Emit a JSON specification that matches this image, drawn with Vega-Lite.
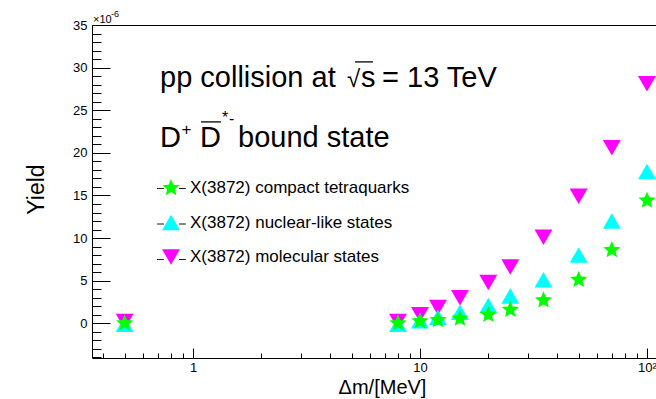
{
  "$schema": "https://vega.github.io/schema/vega-lite/v6.json",
  "width": 564,
  "height": 333,
  "autosize": {"type": "none"},
  "padding": {"left": 92, "top": 25, "right": 0, "bottom": 41},
  "background": "white",
  "config": {
    "view": {"stroke": null},
    "font": "Liberation Sans",
    "axis": {"grid": false, "domainColor": "black", "tickColor": "black", "labelColor": "black", "titleColor": "black", "titleFontWeight": "normal", "labelFont": "Liberation Sans", "titleFont": "Liberation Sans", "labelFlush": false, "labelOverlap": false, "tickWidth": 1, "domainWidth": 1},
    "text": {"font": "Liberation Sans", "color": "black"}
  },
  "resolve": {"axis": {"x": "independent", "y": "independent"}},
  "layer": [
    {
      "data": {"values": [
        {"dm": 0.5, "yield": 0.2, "series": "X(3872) molecular states"},
        {"dm": 8, "yield": 0.2, "series": "X(3872) molecular states"},
        {"dm": 10, "yield": 1.0, "series": "X(3872) molecular states"},
        {"dm": 12, "yield": 1.85, "series": "X(3872) molecular states"},
        {"dm": 15, "yield": 3.0, "series": "X(3872) molecular states"},
        {"dm": 20, "yield": 4.8, "series": "X(3872) molecular states"},
        {"dm": 25, "yield": 6.6, "series": "X(3872) molecular states"},
        {"dm": 35, "yield": 10.1, "series": "X(3872) molecular states"},
        {"dm": 50, "yield": 14.9, "series": "X(3872) molecular states"},
        {"dm": 70, "yield": 20.6, "series": "X(3872) molecular states"},
        {"dm": 100, "yield": 28.1, "series": "X(3872) molecular states"},
        {"dm": 0.5, "yield": -0.1, "series": "X(3872) nuclear-like states"},
        {"dm": 8, "yield": -0.1, "series": "X(3872) nuclear-like states"},
        {"dm": 10, "yield": 0.3, "series": "X(3872) nuclear-like states"},
        {"dm": 12, "yield": 0.7, "series": "X(3872) nuclear-like states"},
        {"dm": 15, "yield": 1.3, "series": "X(3872) nuclear-like states"},
        {"dm": 20, "yield": 2.1, "series": "X(3872) nuclear-like states"},
        {"dm": 25, "yield": 3.2, "series": "X(3872) nuclear-like states"},
        {"dm": 35, "yield": 5.1, "series": "X(3872) nuclear-like states"},
        {"dm": 50, "yield": 8.0, "series": "X(3872) nuclear-like states"},
        {"dm": 70, "yield": 12.0, "series": "X(3872) nuclear-like states"},
        {"dm": 100, "yield": 17.8, "series": "X(3872) nuclear-like states"},
        {"dm": 0.5, "yield": 0.0, "series": "X(3872) compact tetraquarks"},
        {"dm": 8, "yield": 0.0, "series": "X(3872) compact tetraquarks"},
        {"dm": 10, "yield": 0.25, "series": "X(3872) compact tetraquarks"},
        {"dm": 12, "yield": 0.4, "series": "X(3872) compact tetraquarks"},
        {"dm": 15, "yield": 0.55, "series": "X(3872) compact tetraquarks"},
        {"dm": 20, "yield": 1.0, "series": "X(3872) compact tetraquarks"},
        {"dm": 25, "yield": 1.6, "series": "X(3872) compact tetraquarks"},
        {"dm": 35, "yield": 2.7, "series": "X(3872) compact tetraquarks"},
        {"dm": 50, "yield": 5.1, "series": "X(3872) compact tetraquarks"},
        {"dm": 70, "yield": 8.6, "series": "X(3872) compact tetraquarks"},
        {"dm": 100, "yield": 14.4, "series": "X(3872) compact tetraquarks"}
      ]},
      "mark": {"type": "point", "filled": true, "opacity": 1, "size": 320, "strokeWidth": 0},
      "encoding": {
        "x": {"field": "dm", "type": "quantitative",
          "scale": {"type": "log", "domain": [0.359, 109.6], "nice": false},
          "axis": {"orient": "bottom", "offset": -10, "domain": false, "title": "Δm/[MeV]", "values": [1, 10, 100], "labelExpr": "datum.value == 100 ? '10²' : datum.value == 10 ? '10' : '1'", "tickSize": 10, "labelPadding": 3, "labelFontSize": 13, "titleFontSize": 20, "titleX": 290, "titleY": 45, "titleAlign": "center", "titleBaseline": "alphabetic"}},
        "y": {"field": "yield", "type": "quantitative",
          "scale": {"domain": [-4.07, 35], "nice": false, "zero": false},
          "axis": {"orient": "left", "offset": -18, "domain": false, "title": "Yield", "values": [0, 5, 10, 15, 20, 25, 30, 35], "tickSize": 18, "labelPadding": 5, "labelFontSize": 13, "titleFontSize": 23, "titleX": -67, "titleY": 164, "titleAngle": 270, "titleAlign": "center", "titleBaseline": "alphabetic"}},
        "color": {"field": "series", "type": "nominal",
          "scale": {"domain": ["X(3872) compact tetraquarks", "X(3872) nuclear-like states", "X(3872) molecular states"], "range": ["#00ff00", "#00ffff", "#ff00ff"]},
          "legend": {"orient": "none", "legendX": 70, "legendY": 154, "title": null, "labelFontSize": 17, "labelFont": "Liberation Sans", "labelColor": "black", "symbolSize": 320, "symbolStrokeWidth": 0, "rowPadding": 17.5, "labelOffset": 10, "padding": 0, "symbolOpacity": 1, "labelLimit": 400}},
        "shape": {"field": "series", "type": "nominal",
          "scale": {"domain": ["X(3872) compact tetraquarks", "X(3872) nuclear-like states", "X(3872) molecular states"], "range": ["M0,-1L0.265,-0.364L0.951,-0.309L0.428,0.139L0.588,0.809L0,0.45L-0.588,0.809L-0.428,0.139L-0.951,-0.309L-0.265,-0.364Z", "triangle-up", "triangle-down"]},
          "legend": {"orient": "none", "legendX": 70, "legendY": 154, "title": null, "labelFontSize": 17, "labelFont": "Liberation Sans", "labelColor": "black", "symbolSize": 320, "symbolStrokeWidth": 0, "rowPadding": 17.5, "labelOffset": 10, "padding": 0, "symbolOpacity": 1, "labelLimit": 400}}
      }
    },
    {
      "data": {"values": []},
      "mark": {"type": "line", "color": "black", "strokeWidth": 1},
      "encoding": {
        "x": {"field": "dm", "type": "quantitative", "axis": {"orient": "bottom", "offset": -5, "tickSize": 5, "title": null, "values": [0.4, 0.5, 0.6, 0.7, 0.8, 0.9, 2, 3, 4, 5, 6, 7, 8, 9, 20, 30, 40, 50, 60, 70, 80, 90], "labels": false, "domain": false}},
        "y": {"field": "yield", "type": "quantitative", "axis": {"orient": "left", "offset": -9, "tickSize": 9, "title": null, "values": [-4, -3, -2, -1, 1, 2, 3, 4, 6, 7, 8, 9, 11, 12, 13, 14, 16, 17, 18, 19, 21, 22, 23, 24, 26, 27, 28, 29, 31, 32, 33, 34], "labels": false, "domain": false}},
        "strokeDash": {"field": "k", "type": "nominal",
          "scale": {"domain": ["a", "b", "c"], "range": [[1, 0], [1, 0], [1, 0]]},
          "legend": {"orient": "none", "legendX": 70, "legendY": 154, "title": null, "labelFontSize": 17, "labelExpr": "''", "symbolType": "M-1.6,0L-0.85,0M0.85,0L1.6,0", "symbolSize": 320, "symbolStrokeColor": "black", "symbolStrokeWidth": 1, "symbolFillColor": "transparent", "rowPadding": 17.5, "labelOffset": 10, "padding": 0}}
      }
    },
    {
      "data": {"values": []},
      "mark": {"type": "line", "color": "black"},
      "encoding": {
        "x": {"field": "dm", "type": "quantitative", "axis": {"orient": "top", "title": null, "ticks": false, "labels": false, "domain": true}},
        "y": {"field": "yield", "type": "quantitative", "axis": {"orient": "left", "title": null, "ticks": false, "labels": false, "domain": true}}
      }
    },
    {
      "data": {"values": []},
      "mark": {"type": "line", "color": "black"},
      "encoding": {
        "x": {"field": "dm", "type": "quantitative", "axis": {"orient": "bottom", "title": null, "ticks": false, "labels": false, "domain": true}},
        "y": {"field": "yield", "type": "quantitative", "axis": null}
      }
    },
    {
      "data": {"values": [{"t": "overline s"}]},
      "mark": {"type": "rule", "color": "black", "strokeWidth": 1.3},
      "encoding": {"x": {"datum": 5.17, "type": "quantitative", "axis": null}, "x2": {"datum": 6.21}, "y": {"datum": 30.67, "type": "quantitative", "axis": null}}
    },
    {
      "data": {"values": [{"t": "overline D"}]},
      "mark": {"type": "rule", "color": "black", "strokeWidth": 1.3},
      "encoding": {"x": {"datum": 1.0845, "type": "quantitative", "axis": null}, "x2": {"datum": 1.328}, "y": {"datum": 23.63, "type": "quantitative", "axis": null}}
    },
    {
      "data": {"values": [{"t": "pp collision at"}]},
      "mark": {"type": "text", "align": "left", "baseline": "alphabetic", "fontSize": 29, "dx": 0},
      "encoding": {"x": {"datum": 0.7157, "type": "quantitative", "axis": null}, "y": {"datum": 27.73, "type": "quantitative", "axis": null}, "text": {"field": "t"}}
    },
    {
      "data": {"values": [{"t": "√"}]},
      "mark": {"type": "text", "align": "left", "baseline": "alphabetic", "fontSize": 24, "dx": 187},
      "encoding": {"x": {"datum": 0.7157, "type": "quantitative", "axis": null}, "y": {"datum": 27.73, "type": "quantitative", "axis": null}, "text": {"field": "t"}}
    },
    {
      "data": {"values": [{"t": "s"}]},
      "mark": {"type": "text", "align": "left", "baseline": "alphabetic", "fontSize": 29, "dx": 201},
      "encoding": {"x": {"datum": 0.7157, "type": "quantitative", "axis": null}, "y": {"datum": 27.73, "type": "quantitative", "axis": null}, "text": {"field": "t"}}
    },
    {
      "data": {"values": [{"t": "= 13 TeV"}]},
      "mark": {"type": "text", "align": "left", "baseline": "alphabetic", "fontSize": 29, "dx": 222},
      "encoding": {"x": {"datum": 0.7157, "type": "quantitative", "axis": null}, "y": {"datum": 27.73, "type": "quantitative", "axis": null}, "text": {"field": "t"}}
    },
    {
      "data": {"values": [{"t": "D"}]},
      "mark": {"type": "text", "align": "left", "baseline": "alphabetic", "fontSize": 29, "dx": 0},
      "encoding": {"x": {"datum": 0.7157, "type": "quantitative", "axis": null}, "y": {"datum": 20.69, "type": "quantitative", "axis": null}, "text": {"field": "t"}}
    },
    {
      "data": {"values": [{"t": "+"}]},
      "mark": {"type": "text", "align": "left", "baseline": "alphabetic", "fontSize": 17, "dx": 21.5, "dy": -12},
      "encoding": {"x": {"datum": 0.7157, "type": "quantitative", "axis": null}, "y": {"datum": 20.69, "type": "quantitative", "axis": null}, "text": {"field": "t"}}
    },
    {
      "data": {"values": [{"t": "D"}]},
      "mark": {"type": "text", "align": "left", "baseline": "alphabetic", "fontSize": 29, "dx": 40},
      "encoding": {"x": {"datum": 0.7157, "type": "quantitative", "axis": null}, "y": {"datum": 20.69, "type": "quantitative", "axis": null}, "text": {"field": "t"}}
    },
    {
      "data": {"values": [{"t": "*"}]},
      "mark": {"type": "text", "align": "left", "baseline": "alphabetic", "fontSize": 16, "dx": 62, "dy": -24},
      "encoding": {"x": {"datum": 0.7157, "type": "quantitative", "axis": null}, "y": {"datum": 20.69, "type": "quantitative", "axis": null}, "text": {"field": "t"}}
    },
    {
      "data": {"values": [{"t": "-"}]},
      "mark": {"type": "text", "align": "left", "baseline": "alphabetic", "fontSize": 16, "dx": 69, "dy": -23},
      "encoding": {"x": {"datum": 0.7157, "type": "quantitative", "axis": null}, "y": {"datum": 20.69, "type": "quantitative", "axis": null}, "text": {"field": "t"}}
    },
    {
      "data": {"values": [{"t": "bound state"}]},
      "mark": {"type": "text", "align": "left", "baseline": "alphabetic", "fontSize": 29, "dx": 78},
      "encoding": {"x": {"datum": 0.7157, "type": "quantitative", "axis": null}, "y": {"datum": 20.69, "type": "quantitative", "axis": null}, "text": {"field": "t"}}
    },
    {
      "data": {"values": [{"t": "×10"}]},
      "mark": {"type": "text", "align": "left", "baseline": "alphabetic", "fontSize": 11, "dx": 1, "dy": -2, "clip": false},
      "encoding": {"x": {"datum": 0.359, "type": "quantitative", "axis": null}, "y": {"datum": 35, "type": "quantitative", "axis": null}, "text": {"field": "t"}}
    },
    {
      "data": {"values": [{"t": "-6"}]},
      "mark": {"type": "text", "align": "left", "baseline": "alphabetic", "fontSize": 9, "dx": 19, "dy": -8, "clip": false},
      "encoding": {"x": {"datum": 0.359, "type": "quantitative", "axis": null}, "y": {"datum": 35, "type": "quantitative", "axis": null}, "text": {"field": "t"}}
    }
  ]
}
